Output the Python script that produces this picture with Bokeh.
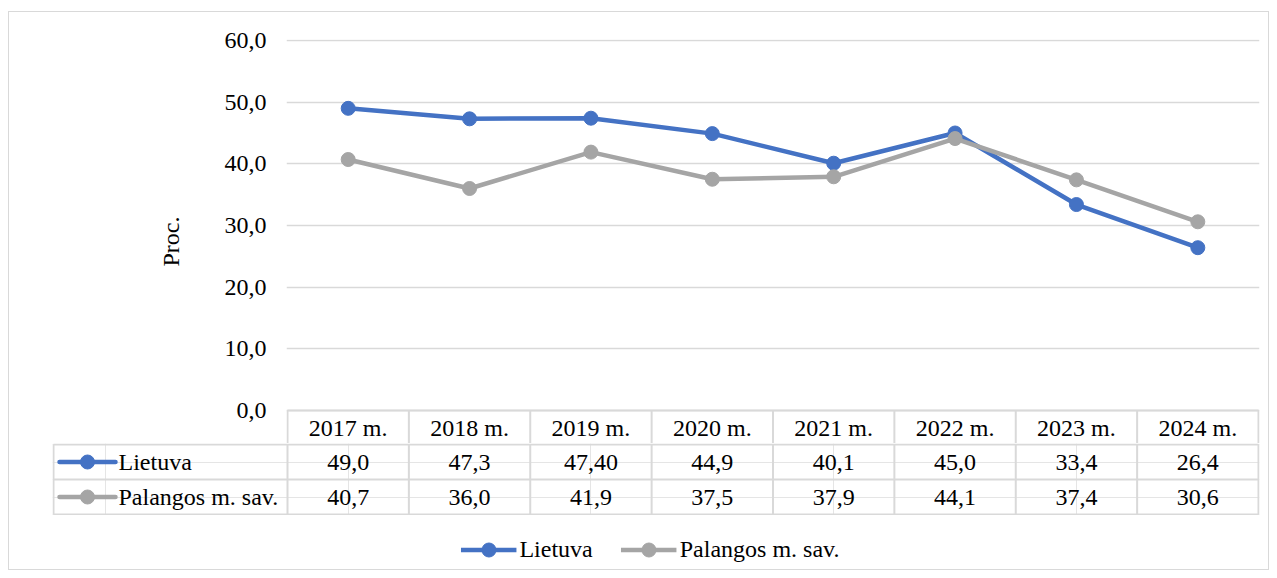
from bokeh.plotting import figure
from bokeh.layouts import column
from bokeh.models import (Range1d, FixedTicker, CustomJSTickFormatter,
                          ColumnDataSource, Legend, LegendItem)
from bokeh.core.properties import value
from bokeh.embed import file_html
from bokeh.resources import INLINE

# ---------------- data ----------------
years = ["2017 m.", "2018 m.", "2019 m.", "2020 m.", "2021 m.", "2022 m.", "2023 m.", "2024 m."]
lietuva = [49.0, 47.3, 47.4, 44.9, 40.1, 45.0, 33.4, 26.4]
palanga = [40.7, 36.0, 41.9, 37.5, 37.9, 44.1, 37.4, 30.6]
lietuva_table = ["49,0", "47,3", "47,40", "44,9", "40,1", "45,0", "33,4", "26,4"]
palanga_table = ["40,7", "36,0", "41,9", "37,5", "37,9", "44,1", "37,4", "30,6"]
series_names = ["Lietuva", "Palangos m. sav."]
y_ticks = [0, 10, 20, 30, 40, 50, 60]
y_title = "Proc."

# ---------------- style ----------------
BLUE = "#4472C4"
GRAY = "#A5A5A5"
GRID = "#D9D9D9"
FONT = "Liberation Serif"
FS = "24px"
LW = 4.5
MS = 14
colors = [BLUE, GRAY]

n = len(years)
idx = list(range(n))
U = 971 / n            # px per category
V = 370 / 60           # px per percent unit
FIG_W = 1259

# ---------------- top figure: line chart + header row ----------------
ya_start = -33 / V
pa = figure(width=FIG_W, height=431, output_backend="svg", toolbar_location=None,
            x_axis_location=None, frame_align=False,
            x_range=Range1d(-0.5 - 1 / U, n - 0.5 + 1 / U),
            y_range=Range1d(ya_start, max(y_ticks) + 1 / V),
            min_border_left=277, min_border_right=9, min_border_top=27, min_border_bottom=0)
pa.outline_line_color = None
pa.background_fill_color = "white"
pa.border_fill_color = "white"
pa.xgrid.visible = False
pa.yaxis.ticker = FixedTicker(ticks=y_ticks)
pa.ygrid.ticker = FixedTicker(ticks=y_ticks)
pa.ygrid.grid_line_color = GRID
pa.ygrid.grid_line_width = 1.5
pa.yaxis.formatter = CustomJSTickFormatter(code="return tick.toFixed(1).replace('.', ',');")
pa.yaxis.axis_line_color = None
pa.yaxis.major_tick_line_color = None
pa.yaxis.minor_tick_line_color = None
pa.yaxis.major_tick_out = 0
pa.yaxis.major_tick_in = 0
pa.yaxis.major_label_standoff = 20
pa.yaxis.major_label_text_font = FONT
pa.yaxis.major_label_text_font_size = FS
pa.yaxis.major_label_text_color = "black"
pa.yaxis.axis_label = y_title
pa.yaxis.axis_label_text_font = FONT
pa.yaxis.axis_label_text_font_size = FS
pa.yaxis.axis_label_text_font_style = "normal"
pa.yaxis.axis_label_text_color = "black"
pa.yaxis.axis_label_standoff = 38

# header row borders
edges = [i - 0.5 for i in range(n + 1)]
pa.segment(x0=edges, x1=edges, y0=[0] * len(edges), y1=[ya_start] * len(edges),
           line_color=GRID, line_width=2)
pa.segment(x0=[-0.5], x1=[n - 0.5], y0=[0], y1=[0], line_color=GRID, line_width=2)

# series
src = ColumnDataSource(dict(x=idx, l=lietuva, p=palanga))
pa.line("x", "l", source=src, line_color=BLUE, line_width=LW, line_join="round", line_cap="round")
pa.scatter("x", "l", source=src, size=MS, marker="circle", fill_color=BLUE, line_color=BLUE)
pa.line("x", "p", source=src, line_color=GRAY, line_width=LW, line_join="round", line_cap="round")
pa.scatter("x", "p", source=src, size=MS, marker="circle", fill_color=GRAY, line_color=GRAY)

# header texts
header_y = ya_start / 2 - 0.5 / V
pa.text(x=idx, y=[header_y] * n, text=years, text_align="center", text_baseline="middle",
        text_font=value(FONT), text_font_size=value(FS), text_color="black")

# ---------------- middle figure: table rows ----------------
left_x = -0.5 - 234 / U
RH = 35
pb = figure(width=FIG_W, height=72, output_backend="svg", toolbar_location=None,
            x_axis_location=None, y_axis_location=None, frame_align=False,
            x_range=Range1d(-0.5 - 235 / U, n - 0.5 + 1 / U),
            y_range=Range1d(-1 / RH, 2 + 1 / RH),
            min_border_left=43, min_border_right=9, min_border_top=0, min_border_bottom=0)
pb.outline_line_color = None
pb.background_fill_color = "white"
pb.border_fill_color = "white"

rows_y = [0, 1, 2]
pb.segment(x0=[left_x] * 3, x1=[n - 0.5] * 3, y0=rows_y, y1=rows_y, line_color=GRID, line_width=2)
vx = [left_x] + edges
pb.segment(x0=vx, x1=vx, y0=[0] * len(vx), y1=[2] * len(vx), line_color=GRID, line_width=2)

row_y = [1.5, 0.5]
for ry, vals in zip(row_y, [lietuva_table, palanga_table]):
    pb.text(x=idx, y=[ry] * n, text=vals, text_align="center", text_baseline="middle",
            text_font=value(FONT), text_font_size=value(FS), text_color="black")

# row keys (legend symbols inside the label column)
k0 = left_x + 6 / U
k1 = left_x + 62 / U
km = (k0 + k1) / 2
kt = left_x + 65 / U
pb.segment(x0=[k0] * 2, x1=[k1] * 2, y0=row_y, y1=row_y, line_color=colors,
           line_width=LW, line_cap="round")
pb.scatter(x=[km] * 2, y=row_y, size=MS, marker="circle", fill_color=colors, line_color=colors)
pb.text(x=[kt] * 2, y=row_y, text=series_names, text_align="left", text_baseline="middle",
        text_font=value(FONT), text_font_size=value(FS), text_color="black")

# ---------------- bottom figure: legend ----------------
pc = figure(width=FIG_W, height=54, output_backend="svg", toolbar_location=None,
            x_axis_location=None, y_axis_location=None, frame_align=False,
            x_range=Range1d(0, 1), y_range=Range1d(0, 1),
            min_border_left=23, min_border_right=0, min_border_top=0, min_border_bottom=0)
pc.outline_line_color = None
pc.grid.visible = False
pc.background_fill_color = "white"
pc.border_fill_color = "white"
nan = float("nan")
keysrc = ColumnDataSource(dict(x=[nan], y=[nan]))
items = []
for nm, c in zip(series_names, colors):
    l_r = pc.line("x", "y", source=keysrc, line_color=c, line_width=LW)
    s_r = pc.scatter("x", "y", source=keysrc, size=MS, marker="circle", fill_color=c, line_color=c)
    items.append(LegendItem(label=nm, renderers=[l_r, s_r]))
leg = Legend(items=items, orientation="horizontal", location="bottom_center",
             padding=0, margin=2, spacing=28, border_line_color=None,
             background_fill_alpha=0, glyph_width=56, glyph_height=RH,
             label_standoff=3, label_text_font=FONT, label_text_font_size=FS,
             label_text_color="black")
pc.add_layout(leg, "center")

layout = column(pa, pb, pc, styles={"border": "1px solid #D9D9D9",
                                    "margin-top": "11px", "margin-left": "8px"})

open("out.html", "w").write(file_html(layout, INLINE))
